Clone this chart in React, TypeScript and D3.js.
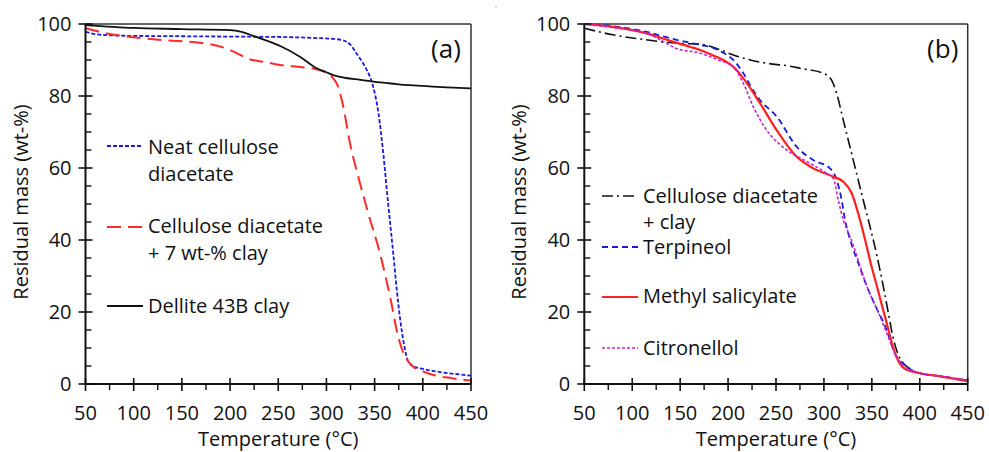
import React from "react";
import * as d3 from "d3";

type P = [number, number];

// Panel (a)
const neatCDA: P[] = [[50,97.8],[60,97.2],[80,96.8],[100,96.7],[150,96.6],[200,96.5],[250,96.4],[290,96.1],[305,95.9],[317,95.5],[325,94.2],[331,91.9],[337,89.5],[342,87.2],[348.5,82.6],[354,75.2],[359,64],[364,50.2],[369.3,36.3],[374.5,22.4],[379.7,12.2],[385,6.2],[390,5],[400,4.2],[411,3.6],[430,2.9],[450,2.3]];
const cdaClay: P[] = [[50,98.8],[70,97.5],[100,96.3],[130,95.5],[169,94.8],[196,93.2],[210,91.5],[217,90.5],[235,89.5],[252,88.6],[275,88],[290,87.4],[303.6,85.8],[312,82.6],[317.5,77],[324.4,66.9],[333,57.6],[343.4,47.4],[355.5,36.3],[366,24.3],[374.5,13.1],[380,8.5],[385,6.2],[390,4.8],[400,3.5],[411,2.5],[430,1.6],[450,0.9]];
const dellite: P[] = [[50,99.7],[100,98.9],[150,98.6],[200,98.3],[212,97.8],[224,96.7],[240,95.2],[252,93.9],[272.5,90.9],[289.8,87.7],[300,86.6],[307,85.8],[320,85],[335,84.5],[348.5,84],[370,83.4],[386.6,83],[400,82.8],[425,82.4],[450,82.1]];

// Panel (b)
const cdaClayB: P[] = [[50,98.8],[80,97],[115,95.6],[150,94.6],[170.7,94.4],[190,93],[205.5,91.4],[223,90],[240.3,89.1],[264,88.3],[275,87.7],[299.4,86.3],[308,84.4],[313.3,80.7],[320.2,73.3],[330.6,62.2],[341,51.1],[346.3,45.6],[355,36],[362,27],[367,20],[372,13.1],[377,8.5],[383,5.7],[390,4.2],[400,3],[420,2.2],[450,1]];
const terpineol: P[] = [[50,100],[80,99.4],[115,97.8],[140,96],[160,94.8],[170.7,94.2],[185,93.3],[195,92],[205.5,90],[216,86.3],[224,82.5],[233.3,78.9],[250.7,74.3],[271.6,65.9],[288.9,62.2],[306.3,59.9],[313.3,56.7],[318.5,51.1],[322,45.6],[328,39.5],[336,33.5],[345,27],[355,21],[365.5,15],[370,11.5],[374,8.5],[380,6.2],[386,4.8],[400,3],[420,2.2],[450,1]];
const methylSal: P[] = [[50,100],[80,99.2],[115,97.4],[140,95.3],[160,93.7],[170.7,92.8],[185,91.2],[195,90],[205.5,88.1],[216,84.9],[233.3,78],[250.7,70.5],[271.6,63.1],[288.9,59.9],[309.8,57.6],[320.2,56.2],[329,53],[337.6,45.6],[343,40],[348,34.4],[354,28.4],[360,22.4],[366,16.4],[372,10.4],[379,5.7],[386,4],[400,3],[420,2.2],[450,0.8]];
const citronellol: P[] = [[50,100],[80,99],[115,97.4],[130,95.5],[146,93.2],[170.7,91.9],[190,90],[205.5,88.1],[216,83.5],[226.3,77],[240.3,70.5],[261.2,65],[282,61.8],[302.9,58.5],[309.8,57.1],[315,51.1],[320.2,45.6],[324,43],[330,39],[338,32.5],[345,27],[355,21],[365,14.5],[370,11],[374,8.5],[380,6],[386,4.6],[400,3],[420,2.2],[450,1]];

const xTicks = [50, 100, 150, 200, 250, 300, 350, 400, 450];
const yTicks = [0, 20, 40, 60, 80, 100];
const xMinor = [75, 125, 175, 225, 275, 325, 375, 425];
const yMinor = [5, 10, 15, 25, 30, 35, 45, 50, 55, 65, 70, 75, 85, 90, 95];

const FONT = "'Open Sans', sans-serif";
const FS = 20;

type Series = { data: P[]; color: string; dash: string; width: number; label: string[]; ly: number; tys: number[] };

const seriesA: Series[] = [
  { data: neatCDA, color: "#1a1adc", dash: "4,2", width: 1.8, label: ["Neat cellulose", "diacetate"], ly: 146, tys: [154, 181] },
  { data: cdaClay, color: "#ff2a2a", dash: "14,7", width: 2, label: ["Cellulose diacetate", "+ 7 wt-% clay"], ly: 227, tys: [233, 260] },
  { data: dellite, color: "#111", dash: "", width: 1.8, label: ["Dellite 43B clay"], ly: 306, tys: [313] },
];
const seriesB: Series[] = [
  { data: cdaClayB, color: "#111", dash: "11,4,2,4", width: 1.6, label: ["Cellulose diacetate", "+ clay"], ly: 196, tys: [203, 229] },
  { data: terpineol, color: "#1a1adc", dash: "6,4", width: 1.8, label: ["Terpineol"], ly: 247, tys: [254] },
  { data: methylSal, color: "#ff2020", dash: "", width: 2.2, label: ["Methyl salicylate"], ly: 297, tys: [303] },
  { data: citronellol, color: "#d020d0", dash: "3,2", width: 1.6, label: ["Citronellol"], ly: 348, tys: [355] },
];

function Panel({ x0, x1, series, tag, legX }: { x0: number; x1: number; series: Series[]; tag: string; legX: number }) {
  const y0 = 24, y1 = 384;
  const x = d3.scaleLinear().domain([50, 450]).range([x0, x1]);
  const y = d3.scaleLinear().domain([0, 100]).range([y1, y0]);
  const line = d3.line<P>().x(d => x(d[0])).y(d => y(d[1])).curve(d3.curveMonotoneX);
  return (
    <g fontFamily={FONT} fill="#111">
      <line x1={x0} x2={x1} y1={y0} y2={y0} stroke="#333" strokeWidth={1.5} />
      <line x1={x1} x2={x1} y1={y0} y2={y1} stroke="#333" strokeWidth={1.5} />
      {series.map((s, i) => (
        <path key={i} d={line(s.data) || ""} fill="none" stroke={s.color} strokeWidth={s.width} strokeDasharray={s.dash} />
      ))}
      <line x1={x0} x2={x1} y1={y1} y2={y1} stroke="#111" strokeWidth={2} />
      <line x1={x0} x2={x0} y1={y0} y2={y1} stroke="#111" strokeWidth={2} />
      {xTicks.map(t => (
        <g key={"xt" + t}>
          <line x1={x(t)} x2={x(t)} y1={y1 - 6} y2={y1 + 7} stroke="#111" strokeWidth={1.6} />
          <text x={x(t)} y={420} textAnchor="middle" fontSize={FS}>{t}</text>
        </g>
      ))}
      {xMinor.map(t => (
        <line key={"xm" + t} x1={x(t)} x2={x(t)} y1={y1} y2={y1 + 6} stroke="#111" strokeWidth={1.4} />
      ))}
      {yTicks.map(t => (
        <g key={"yt" + t}>
          <line x1={x0 - 7} x2={x0 + 7} y1={y(t)} y2={y(t)} stroke="#111" strokeWidth={1.6} />
          <text x={x0 - 14} y={y(t) + 7} textAnchor="end" fontSize={FS}>{t}</text>
        </g>
      ))}
      {yMinor.map(t => (
        <line key={"ym" + t} x1={x0} x2={x0 + 6} y1={y(t)} y2={y(t)} stroke="#111" strokeWidth={1.4} />
      ))}
      <text x={(x0 + x1) / 2} y={446} textAnchor="middle" fontSize={FS}>Temperature (°C)</text>
      <text transform={`translate(${x0 - 58},${(y0 + y1) / 2 - 2}) rotate(-90)`} textAnchor="middle" fontSize={FS}>Residual mass (wt-%)</text>
      <text x={x1 - 25} y={58} textAnchor="middle" fontSize={26}>{tag}</text>
      {series.map((s, i) => (
        <g key={"lg" + i}>
          <line x1={legX} x2={legX + 36} y1={s.ly} y2={s.ly} stroke={s.color} strokeWidth={s.width} strokeDasharray={s.dash} />
          {s.label.map((l, j) => (
            <text key={j} x={legX + 41} y={s.tys[j]} fontSize={FS}>{l}</text>
          ))}
        </g>
      ))}
    </g>
  );
}

export default function App() {
  return (
    <svg width={989} height={452} style={{ position: "absolute", left: 0, top: 0, background: "#fff" }}>
      <rect width={989} height={452} fill="#fff" />
      <Panel x0={85.5} x1={471} series={seriesA} tag="(a)" legX={107} />
      <Panel x0={584.3} x1={967.7} series={seriesB} tag="(b)" legX={602} />
      <circle cx={496} cy={7} r={0.7} fill="#999" />
    </svg>
  );
}
